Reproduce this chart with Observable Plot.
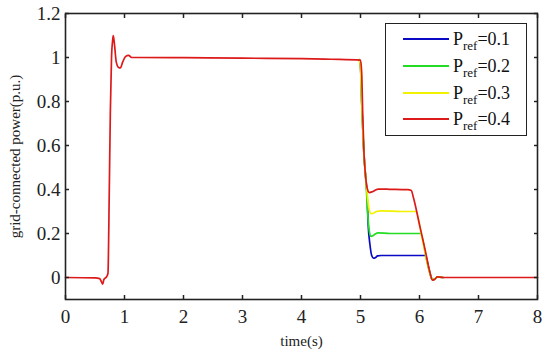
<!DOCTYPE html>
<html>
<head>
<meta charset="utf-8">
<script src="https://cdn.jsdelivr.net/npm/d3@7"></script>
<script src="https://cdn.jsdelivr.net/npm/@observablehq/plot@0.6"></script>
<style>
  html, body { margin: 0; padding: 0; background: #fff; }
  #wrap { position: relative; width: 550px; height: 353px; font-family: 'Liberation Serif', 'DejaVu Serif', serif; }
  #wrap svg text { font-family: 'Liberation Serif', 'DejaVu Serif', serif !important; }
  #legend { position: absolute; left: 385px; top: 23px; width: 142px; height: 113px; border: 1.3px solid #222; box-sizing: border-box; background: #fff; }
  .row { position: absolute; left: 0; height: 20px; }
  .sw { position: absolute; left: 17px; width: 46px; height: 0; border-top: 2px solid; }
  .lbl { position: absolute; left: 67px; font-size: 18px; color: #111; white-space: nowrap; line-height: 16px; font-family: 'Liberation Serif', 'DejaVu Serif', serif; }
  .lbl sub { font-size: 13px; vertical-align: -5px; line-height: 0; }
</style>
</head>
<body>
<div id="wrap"></div>
<script>
// ---- data ----
const seriesNames = ["Pref=0.1", "Pref=0.2", "Pref=0.3", "Pref=0.4"];
const seriesColors = ["#0a0ac4", "#22dd22", "#f2f200", "#dd1a1a"];
const legendValues = ["0.1", "0.2", "0.3", "0.4"];
const xTicks = [0, 1, 2, 3, 4, 5, 6, 7, 8];
const yTicks = [0, 0.2, 0.4, 0.6, 0.8, 1, 1.2];

// blue: Pref = 0.1
const blueT = [4.98, 5.0, 5.02, 5.05, 5.08, 5.11, 5.13, 5.16, 5.19, 5.22, 5.25, 5.29, 5.35, 5.6, 6.0, 6.1, 6.15, 6.2, 6.22, 6.26, 6.3, 6.4];
const blueV = [0.99, 0.96, 0.8, 0.6, 0.48, 0.38, 0.24, 0.15, 0.1, 0.088, 0.09, 0.098, 0.1, 0.1, 0.1, 0.1, 0.05, 0.0, -0.01, -0.008, 0.003, 0.0];
// green: Pref = 0.2
const greenT = [4.98, 5.0, 5.02, 5.05, 5.08, 5.1, 5.12, 5.15, 5.18, 5.21, 5.25, 5.3, 5.5, 5.9, 6.02, 6.12, 6.2, 6.22, 6.26, 6.3, 6.4];
const greenV = [0.99, 0.96, 0.8, 0.6, 0.48, 0.4, 0.3, 0.21, 0.187, 0.19, 0.198, 0.203, 0.2, 0.2, 0.2, 0.08, 0.0, -0.01, -0.008, 0.003, 0.0];
// yellow: Pref = 0.3
const yellowT = [4.98, 5.0, 5.02, 5.05, 5.08, 5.11, 5.14, 5.18, 5.22, 5.27, 5.35, 5.7, 5.94, 6.05, 6.2, 6.22, 6.26, 6.3, 6.4];
const yellowV = [0.99, 0.96, 0.8, 0.6, 0.48, 0.39, 0.32, 0.29, 0.292, 0.3, 0.303, 0.3, 0.3, 0.17, 0.0, -0.01, -0.008, 0.003, 0.0];
// red: Pref = 0.4
const redT = [0, 0.5, 0.58, 0.61, 0.63, 0.65, 0.7, 0.72, 0.74, 0.76, 0.78, 0.8, 0.81, 0.83, 0.86, 0.9, 0.93, 0.97, 1.02, 1.07, 1.12, 1.22, 2, 3, 4, 4.5, 5.0, 5.02, 5.04, 5.06, 5.08, 5.11, 5.15, 5.2, 5.25, 5.3, 5.5, 5.8, 5.86, 5.9, 6.0, 6.1, 6.17, 6.22, 6.26, 6.3, 6.4, 7, 8];
const redV = [0, -0.002, -0.005, -0.02, -0.03, -0.01, 0.005, 0.02, 0.35, 0.75, 1.0, 1.08, 1.1, 1.06, 0.98, 0.955, 0.953, 0.98, 1.005, 1.01, 1.0, 1.0, 0.999, 0.997, 0.995, 0.992, 0.988, 0.93, 0.72, 0.56, 0.48, 0.41, 0.386, 0.39, 0.397, 0.402, 0.401, 0.399, 0.395, 0.36, 0.24, 0.12, 0.03, -0.012, -0.008, 0.003, 0.0, 0.0, 0.0];

const seriesT = [blueT, greenT, yellowT, redT];
const seriesV = [blueV, greenV, yellowV, redV];

const rows = [];
seriesNames.forEach((name, i) => {
  seriesT[i].forEach((t, j) => rows.push({ series: name, t, v: seriesV[i][j] }));
});

const chart = Plot.plot({
  width: 550,
  height: 353,
  marginLeft: 65,
  marginRight: 13,
  marginTop: 13,
  marginBottom: 54,
  style: { fontFamily: "'Liberation Serif', 'DejaVu Serif', serif", fontSize: "16px", color: "#222", background: "#fff" },
  x: { domain: [0, 8] },
  y: { domain: [-0.1, 1.2] },
  color: { domain: seriesNames, range: seriesColors },
  marks: [
    Plot.line(rows, { x: "t", y: "v", z: "series", stroke: "series", strokeWidth: 1.7, curve: "monotone-x" }),
    Plot.frame({ stroke: "#222", strokeWidth: 1.6 }),
    // tick labels
    Plot.axisX({ ticks: xTicks, tickSize: 0, tickPadding: 10, tickFormat: d => String(d), label: null, fontSize: 19 }),
    Plot.axisY({ ticks: yTicks, tickSize: 0, tickPadding: 5, tickFormat: d => String(d), label: null, fontSize: 19 }),
    // axis titles
    Plot.axisX({ ticks: [], tickSize: 0, label: "time(s)", labelAnchor: "center", labelOffset: 46, labelArrow: "none", fontSize: 15 }),
    Plot.axisY({ ticks: [], tickSize: 0, label: "grid-connected power(p.u.)", labelAnchor: "center", labelOffset: 56, labelArrow: "none", fontSize: 15 }),
    // inward ticks on all four sides
    Plot.axisX({ ticks: xTicks, anchor: "bottom", tickSize: -4, tickFormat: () => "", label: null, strokeWidth: 1.5 }),
    Plot.axisX({ ticks: xTicks, anchor: "top", tickSize: -4, tickFormat: () => "", label: null, strokeWidth: 1.5 }),
    Plot.axisY({ ticks: yTicks, anchor: "left", tickSize: -4, tickFormat: () => "", label: null, strokeWidth: 1.5 }),
    Plot.axisY({ ticks: yTicks, anchor: "right", tickSize: -4, tickFormat: () => "", label: null, strokeWidth: 1.5 })
  ]
});

const wrap = document.getElementById("wrap");
wrap.appendChild(chart);

// legend
const legend = document.createElement("div");
legend.id = "legend";
const rowTops = [6, 33, 60, 86];
seriesNames.forEach((name, i) => {
  const row = document.createElement("div");
  row.className = "row";
  row.style.top = rowTops[i] + "px";
  row.style.width = "100%";
  const sw = document.createElement("div");
  sw.className = "sw";
  sw.style.borderColor = seriesColors[i];
  sw.style.top = "8px";
  const lbl = document.createElement("div");
  lbl.className = "lbl";
  lbl.style.top = "1px";
  lbl.innerHTML = "P<sub>ref</sub>=" + legendValues[i];
  row.appendChild(sw);
  row.appendChild(lbl);
  legend.appendChild(row);
});
wrap.appendChild(legend);
</script>
</body>
</html>
